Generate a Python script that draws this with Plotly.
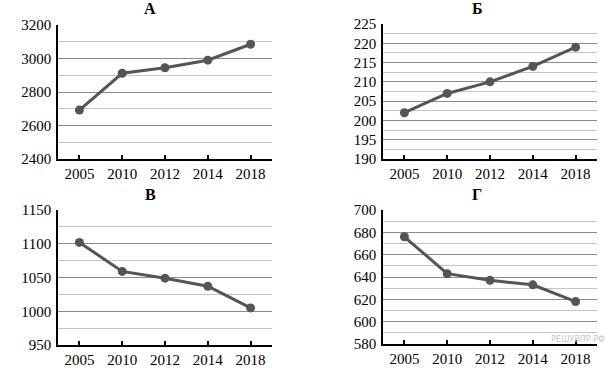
import plotly.graph_objects as go

years = ["2005", "2010", "2012", "2014", "2018"]
titles = ["А", "Б", "В", "Г"]
values_a = [2692, 2912, 2945, 2990, 3085]
values_b = [202, 207, 210, 214, 219]
values_v = [1102, 1059, 1049, 1037, 1005]
values_g = [676, 643, 637, 633, 618]
y_ranges = [(2400, 3200), (190, 225), (950, 1150), (580, 700)]
y_major = [200, 5, 50, 20]
y_minor = [100, 2.5, 25, 10]

W, H = 610, 370
SERIF = "Liberation Serif"
# plot areas in pixels: (left, right, top, bottom)
boxes = [(58, 272, 25, 159), (383, 597, 24, 159), (58, 272, 210, 345), (383, 597, 210, 344)]
title_pos = [(150, 8), (477, 8), (150, 194), (477, 194)]

fig = go.Figure()
series = [values_a, values_b, values_v, values_g]
for i, vals in enumerate(series):
    n = "" if i == 0 else str(i + 1)
    l, r, t, b = boxes[i]
    fig.add_trace(go.Scatter(
        x=years, y=vals, mode="lines+markers",
        line=dict(color="#555555", width=3),
        marker=dict(color="#555555", size=9),
        xaxis="x" + n, yaxis="y" + n, showlegend=False, hoverinfo="skip"))
    fig.layout["xaxis" + n] = dict(
        domain=[l / W, r / W], anchor="y" + n, type="category", automargin=False,
        range=[-0.5, 4.5], showgrid=False, showline=True, linecolor="#000",
        linewidth=2, ticks="inside", ticklen=4, tickcolor="#000", tickwidth=1.5,
        tickfont=dict(family=SERIF, size=15, color="#000"),
        zeroline=False, fixedrange=True)
    lo, hi = y_ranges[i]
    fig.layout["yaxis" + n] = dict(
        domain=[1 - b / H, 1 - t / H], anchor="x" + n, range=[lo, hi], automargin=False,
        tick0=lo, dtick=y_major[i], showgrid=True, gridcolor="#8a8a8a", gridwidth=1.3,
        minor=dict(dtick=y_minor[i], tick0=lo, showgrid=True, gridcolor="#c4c4c4", gridwidth=1.3),
        showline=True, linecolor="#000", linewidth=1.5, ticks="", zeroline=False,
        tickfont=dict(family=SERIF, size=15, color="#000"),
        ticklabelstandoff=2, fixedrange=True)
    tx, ty = title_pos[i]
    fig.add_annotation(x=tx / W, y=1 - ty / H, xref="paper", yref="paper",
                       text="<b>" + titles[i] + "</b>", showarrow=False,
                       font=dict(family=SERIF, size=16, color="#000"),
                       xanchor="center", yanchor="middle")

fig.add_annotation(x=607 / W, y=1 - 339 / H, xref="paper", yref="paper",
                   text="РЕШУВПР.РФ", showarrow=False,
                   font=dict(family="DejaVu Sans", size=8, color="#c8c8c8"),
                   xanchor="right", yanchor="middle")

fig.update_layout(width=W, height=H, margin=dict(l=0, r=0, t=0, b=0, autoexpand=False),
                  paper_bgcolor="white", plot_bgcolor="white")
fig.write_html("out.html", config={"displayModeBar": False},
               post_script="document.body.style.margin='0';document.body.style.overflow='hidden';")
